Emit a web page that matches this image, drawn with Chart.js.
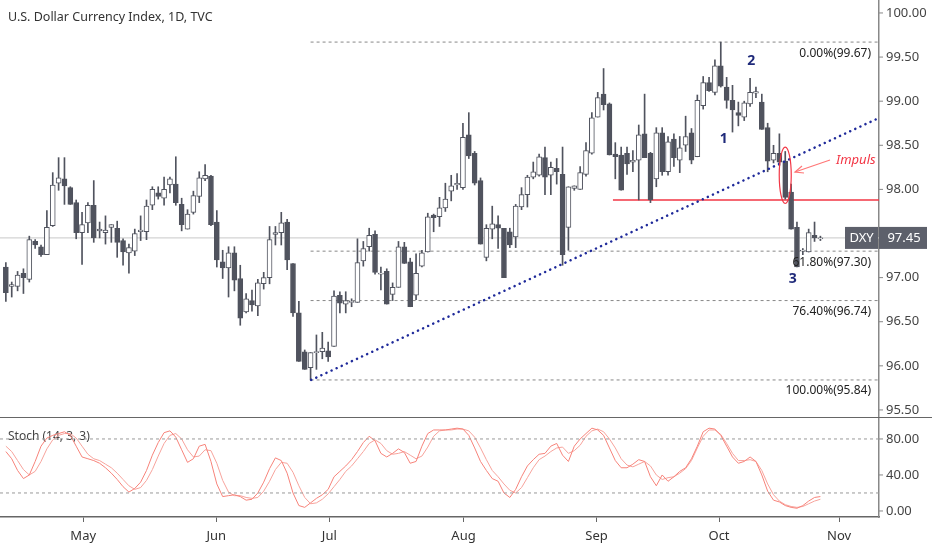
<!DOCTYPE html>
<html><head><meta charset="utf-8">
<script src="https://cdn.jsdelivr.net/npm/chart.js@4"></script>
<style>html,body{margin:0;padding:0;background:#fff;width:932px;height:550px;overflow:hidden}
.w1{position:absolute;left:0;top:0;width:932px;height:417px}
.w2{position:absolute;left:0;top:417px;width:932px;height:133px}</style>
</head><body>
<div class="w1"><canvas id="c1"></canvas></div>
<div class="w2"><canvas id="c2"></canvas></div>
<script>
const title = "U.S. Dollar Currency Index, 1D, TVC";
const openP = [97.12,96.90,96.90,97.05,96.98,97.41,97.35,97.26,97.59,98.07,98.12,98.02,97.85,97.51,97.62,97.82,97.53,97.51,97.57,97.56,97.42,97.28,97.30,97.52,97.52,97.82,97.96,97.90,98.05,98.06,97.83,97.55,97.74,97.92,98.12,98.15,97.63,97.18,97.11,97.28,96.99,96.61,96.74,96.68,96.93,97.00,97.49,97.51,97.63,97.16,96.60,96.16,95.98,96.15,96.16,96.17,96.22,96.80,96.70,96.72,96.72,97.19,97.35,97.49,97.04,97.07,96.81,96.89,97.35,97.18,96.80,97.13,97.29,97.71,97.69,97.79,97.98,98.05,98.02,98.62,98.41,98.10,97.23,97.55,97.60,97.56,97.52,97.46,97.80,97.94,98.14,98.16,98.36,98.16,98.24,98.17,97.57,98.01,98.00,98.17,98.41,98.82,99.08,98.97,98.40,98.39,98.41,98.31,98.33,98.63,98.41,98.12,98.64,98.20,98.57,98.33,98.50,98.64,98.37,98.95,99.21,99.10,99.40,99.16,99.01,98.87,98.82,98.97,99.09,98.99,98.70,98.33,98.41,98.32,97.97,97.57,97.30,97.29,97.48,97.44];
const highP = [97.17,96.95,97.07,97.10,97.47,97.43,97.37,97.76,98.19,98.36,98.36,98.03,97.88,97.74,97.85,98.10,97.63,97.70,97.60,97.64,97.44,97.38,97.55,97.70,97.88,98.03,98.03,98.14,98.14,98.37,97.90,97.77,97.98,98.20,98.28,98.16,97.76,97.31,97.35,97.35,97.14,96.82,96.86,96.98,97.06,97.58,97.58,97.74,97.66,97.16,96.73,96.18,96.15,96.35,96.38,96.27,96.85,96.84,96.84,96.76,97.44,97.41,97.56,97.53,97.12,97.10,96.94,97.41,97.40,97.22,97.27,97.31,97.73,97.72,97.91,98.07,98.16,98.18,98.75,98.87,98.43,98.13,97.60,97.81,97.70,97.56,97.56,97.83,98.02,98.16,98.31,98.40,98.48,98.31,98.35,98.48,98.03,98.04,98.26,98.53,98.87,99.10,99.37,98.98,98.53,98.48,98.48,98.44,98.73,99.08,98.42,98.70,98.70,98.60,98.63,98.60,98.83,98.69,99.07,99.28,99.27,99.47,99.67,99.27,99.18,98.99,99.00,99.26,99.16,99.08,98.75,98.50,98.63,98.43,98.06,97.63,97.33,97.55,97.63,97.47];
const lowP = [96.73,96.78,96.85,96.82,96.95,97.33,97.24,97.26,97.58,97.99,97.83,97.83,97.44,97.15,97.51,97.40,97.45,97.38,97.40,97.23,97.14,97.05,97.25,97.42,97.43,97.77,97.89,97.82,97.96,97.82,97.53,97.55,97.72,97.85,98.10,97.59,97.12,96.99,96.78,96.85,96.46,96.60,96.62,96.57,96.87,96.93,97.37,97.37,97.09,96.56,96.05,95.96,95.84,95.96,96.08,96.05,96.22,96.60,96.60,96.67,96.72,97.13,97.30,97.04,96.86,96.70,96.74,96.89,97.16,96.67,96.75,97.12,97.29,97.52,97.58,97.75,97.87,98.00,98.00,98.35,98.05,97.38,97.19,97.44,97.33,97.00,97.34,97.34,97.77,97.80,98.12,98.15,97.94,97.94,98.06,97.14,97.31,97.99,98.00,98.15,98.40,98.82,98.90,98.39,98.12,97.99,98.17,98.20,97.88,98.36,97.85,98.03,98.16,98.16,98.26,98.19,98.43,98.29,98.37,98.91,99.11,99.07,99.16,98.92,98.65,98.72,98.78,98.94,99.04,98.68,98.20,98.30,98.27,97.89,97.55,97.12,97.26,97.29,97.41,97.42];
const closeP = [96.83,96.92,97.03,97.00,97.43,97.37,97.26,97.57,98.05,98.13,98.04,97.83,97.51,97.60,97.82,97.45,97.55,97.54,97.60,97.40,97.29,97.34,97.50,97.54,97.81,98.00,97.92,98.00,98.12,97.85,97.60,97.72,97.93,98.13,98.16,97.60,97.20,97.11,97.28,96.97,96.54,96.76,96.69,96.94,97.00,97.43,97.51,97.62,97.20,96.60,96.05,95.96,96.15,96.16,96.20,96.10,96.79,96.71,96.74,96.73,97.17,97.33,97.48,97.06,97.05,96.70,96.89,97.35,97.16,96.67,97.05,97.28,97.69,97.68,97.79,97.89,98.04,98.07,98.59,98.38,98.07,97.38,97.56,97.61,97.56,97.00,97.37,97.81,97.94,98.14,98.20,98.37,98.14,98.25,98.20,97.26,98.03,98.04,98.19,98.44,98.81,99.04,98.96,98.39,98.37,97.99,98.29,98.33,98.62,98.36,97.88,98.64,98.20,98.54,98.36,98.47,98.60,98.33,99.01,99.21,99.12,99.40,99.17,99.01,98.90,98.84,98.98,99.10,99.11,98.68,98.32,98.41,98.31,97.91,97.55,97.12,97.31,97.51,97.45,97.45];
const stochK = [66,58,45,36,40,55,72,81,84,86, 88,84,72,60,58,56,53,48,42,35, 27,21,25,32,45,62,76,87,89,82, 68,54,58,72,74,55,30,16,17,18, 16,12,13,20,32,47,59,56,42,20, 6,4,9,14,18,24,38,44,50,57, 66,76,83,78,64,60,64,69,65,53, 55,72,86,90,90,90,91,92,91,84, 70,55,45,36,33,20,15,24,38,50, 57,63,64,72,75,62,55,72,80,86, 92,90,84,70,56,48,48,52,57,55, 38,28,40,33,38,44,48,58,72,88, 92,91,84,72,60,53,55,60,55,40, 22,12,10,6,4,3,6,11,15,16];
const stochD = [72,66,56,46,40,44,55,69,79,84, 86,86,81,72,63,58,56,52,48,42, 35,28,24,26,34,46,61,75,84,86, 80,68,60,61,68,67,53,34,21,17, 17,15,14,15,22,33,46,54,53,43, 28,15,8,9,13,19,27,35,44,50, 58,66,75,79,75,67,63,64,66,62, 58,61,71,83,89,90,90,91,91,89, 82,70,57,45,38,30,23,20,26,37, 48,57,61,66,70,71,64,67,73,83, 89,91,88,80,70,58,51,49,52,55, 50,40,35,37,38,42,47,56,70,83, 90,90,85,75,64,56,56,57,55,45, 30,18,11,7,5,4,5,8,11,13];
const monthLabels = ["May","Jun","Jul","Aug","Sep","Oct","Nov"];
const monthPos = [14.2,36.9,56.2,79.1,101.8,122.7,143.2];
const priceTicks = [95.5,96,96.5,97,97.5,98,98.5,99,99.5,100];
const stochTicks = [0,40,80];
const fibLevels = [99.67,97.30,96.74,95.84];
const fibLabels = ["0.00%(99.67)","61.80%(97.30)","76.40%(96.74)","100.00%(95.84)"];
const lastPrice = 97.45;
const resistance = 97.88;
const trendFrom = [53.1,95.84], trendTo = [150,98.81];
const fibStart = 53, resStart = 104.6;

const DARK = '#50535e';
const xs = closeP.map((_,i)=>i+1);
const up = i => closeP[i] >= openP[i];
const FONT = '"Noto Sans", "DejaVu Sans", sans-serif';

function axisLabels(chart, ticks){
  const c=chart.ctx, Y=chart.scales.y;
  c.save(); c.fillStyle='#444'; c.font='13px '+FONT; c.textAlign='left'; c.textBaseline='middle';
  ticks.forEach(v=>{const y=Y.getPixelForValue(v); c.fillText(v.toFixed(2),Y.left+7,y);
    c.strokeStyle='#888'; c.lineWidth=1; c.beginPath(); c.moveTo(Y.left,y); c.lineTo(Y.left+4,y); c.stroke();});
  c.restore();
}

const overlay = {
  id:'overlay',
  afterDraw(chart){
    const c=chart.ctx, X=chart.scales.x, Y=chart.scales.y;
    axisLabels(chart, priceTicks);
    c.save();
    c.fillStyle='#333'; c.font='12.5px '+FONT; c.textAlign='left'; c.textBaseline='middle';
    c.fillText(title,8,17);
    c.fillStyle='#222'; c.font='12px '+FONT; c.textAlign='right';
    fibLevels.forEach((v,i)=>c.fillText(fibLabels[i],871,Y.getPixelForValue(v)+11));
    c.fillStyle='#1f2a7a'; c.font='bold 14px '+FONT; c.textAlign='center';
    c.fillText('1',X.getPixelForValue(123.5),Y.getPixelForValue(98.57));
    c.fillText('2',X.getPixelForValue(128.2),Y.getPixelForValue(99.45));
    c.fillText('3',X.getPixelForValue(135.3),Y.getPixelForValue(96.98));
    const ex=X.getPixelForValue(134), y1=Y.getPixelForValue(98.48), y2=Y.getPixelForValue(97.84);
    c.strokeStyle='#f23645'; c.lineWidth=1.2;
    c.beginPath(); c.ellipse(ex,(y1+y2)/2,6,(y2-y1)/2,0,0,Math.PI*2); c.stroke();
    c.strokeStyle='#f77'; c.beginPath(); c.moveTo(830,160); c.lineTo(795,172); c.stroke();
    c.beginPath(); c.moveTo(802,166); c.lineTo(795,172); c.lineTo(804,173); c.stroke();
    c.fillStyle='#f23645'; c.font='italic 13px '+FONT; c.textAlign='left';
    c.fillText('Impuls',836,160);
    const ly=Y.getPixelForValue(lastPrice);
    c.fillStyle='#5d606b'; c.fillRect(845,ly-11,33,22); c.fillRect(879,ly-11,48,22);
    c.fillStyle='#fff'; c.font='13px '+FONT; c.textAlign='center';
    c.fillText('DXY',861.5,ly); c.fillText(lastPrice.toFixed(2),904,ly);
    c.restore();
  }
};

new Chart(document.getElementById('c1'),{
  type:'bar',
  data:{datasets:[
    {type:'line',data:[{x:0,y:lastPrice},{x:150,y:lastPrice}],borderColor:'#c8c8c8',borderWidth:1,pointRadius:0,order:10},
    ...fibLevels.map(v=>({type:'line',data:[{x:fibStart,y:v},{x:150,y:v}],borderColor:'#888',borderWidth:1,borderDash:[3,3],pointRadius:0,order:9})),
    {type:'line',data:[{x:resStart,y:resistance},{x:150,y:resistance}],borderColor:'#f23645',borderWidth:1.5,pointRadius:0,order:8},
    {data:xs.map((x,i)=>({x,y:[lowP[i],highP[i]]})),backgroundColor:DARK,barThickness:1,grouped:false,order:3},
    {data:xs.map((x,i)=>({x,y:[openP[i],closeP[i]]})),backgroundColor:c=>up(c.dataIndex)?'#fff':DARK,borderColor:DARK,borderWidth:1,borderSkipped:false,barThickness:5,minBarLength:1,grouped:false,order:2},
    {type:'line',data:[{x:trendFrom[0],y:trendFrom[1]},{x:trendTo[0],y:trendTo[1]}],borderColor:'#1f2a9a',borderWidth:2.5,borderDash:[0.1,5.5],borderCapStyle:'round',pointRadius:0,order:1}
  ]},
  options:{responsive:true,maintainAspectRatio:false,animation:false,
    layout:{padding:0},
    plugins:{legend:{display:false},tooltip:{enabled:false}},
    scales:{
      x:{type:'linear',min:0,max:150,display:false,offset:false},
      y:{position:'right',min:95.42,max:100.147,
        afterFit:s=>{s.width=53},
        ticks:{display:false},
        grid:{drawOnChartArea:false,drawTicks:false},border:{color:'#888',width:1.5}}
    }},
  plugins:[overlay]
});

const stochOv={id:'so',
  beforeDatasetsDraw(chart){
    const c=chart.ctx,a=chart.chartArea;
    c.save(); c.strokeStyle='#666'; c.lineWidth=2; c.beginPath(); c.moveTo(0,a.top); c.lineTo(chart.width,a.top); c.stroke();
    c.fillStyle='#444'; c.font='12px '+FONT; c.textAlign='left'; c.textBaseline='middle';
    c.fillText('Stoch (14, 3, 3)',8,a.top+20); c.restore();
  },
  afterDraw(chart){ axisLabels(chart, stochTicks); }
};
new Chart(document.getElementById('c2'),{
  type:'line',
  data:{datasets:[
    {data:[{x:0,y:80},{x:150,y:80}],borderColor:'#999',borderWidth:1,borderDash:[3,3],pointRadius:0},
    {data:[{x:0,y:20},{x:150,y:20}],borderColor:'#999',borderWidth:1,borderDash:[3,3],pointRadius:0},
    {data:xs.map((x,i)=>({x,y:stochK[i]})),borderColor:'#f7837a',borderWidth:1,pointRadius:0,tension:0},
    {data:xs.map((x,i)=>({x,y:stochD[i]})),borderColor:'#f7a39c',borderWidth:1,pointRadius:0,tension:0}
  ]},
  options:{responsive:true,maintainAspectRatio:false,animation:false,
    layout:{padding:0},
    plugins:{legend:{display:false},tooltip:{enabled:false}},
    scales:{
      x:{type:'linear',min:0,max:150,
        afterFit:s=>{s.height=33},
        afterBuildTicks:s=>{s.ticks=monthPos.map(v=>({value:v}))},
        ticks:{color:'#333',font:{size:13,family:FONT},maxRotation:0,padding:6,callback:(v)=>monthLabels[monthPos.indexOf(v)]||''},
        grid:{drawOnChartArea:false,tickLength:5,color:'#666'},border:{color:'#666',width:1.5}},
      y:{position:'right',min:-6.7,max:104.4,
        afterFit:s=>{s.width=53},
        ticks:{display:false},
        grid:{drawOnChartArea:false,drawTicks:false},border:{color:'#888',width:1.5}}
    }},
  plugins:[stochOv]
});
</script></body></html>
